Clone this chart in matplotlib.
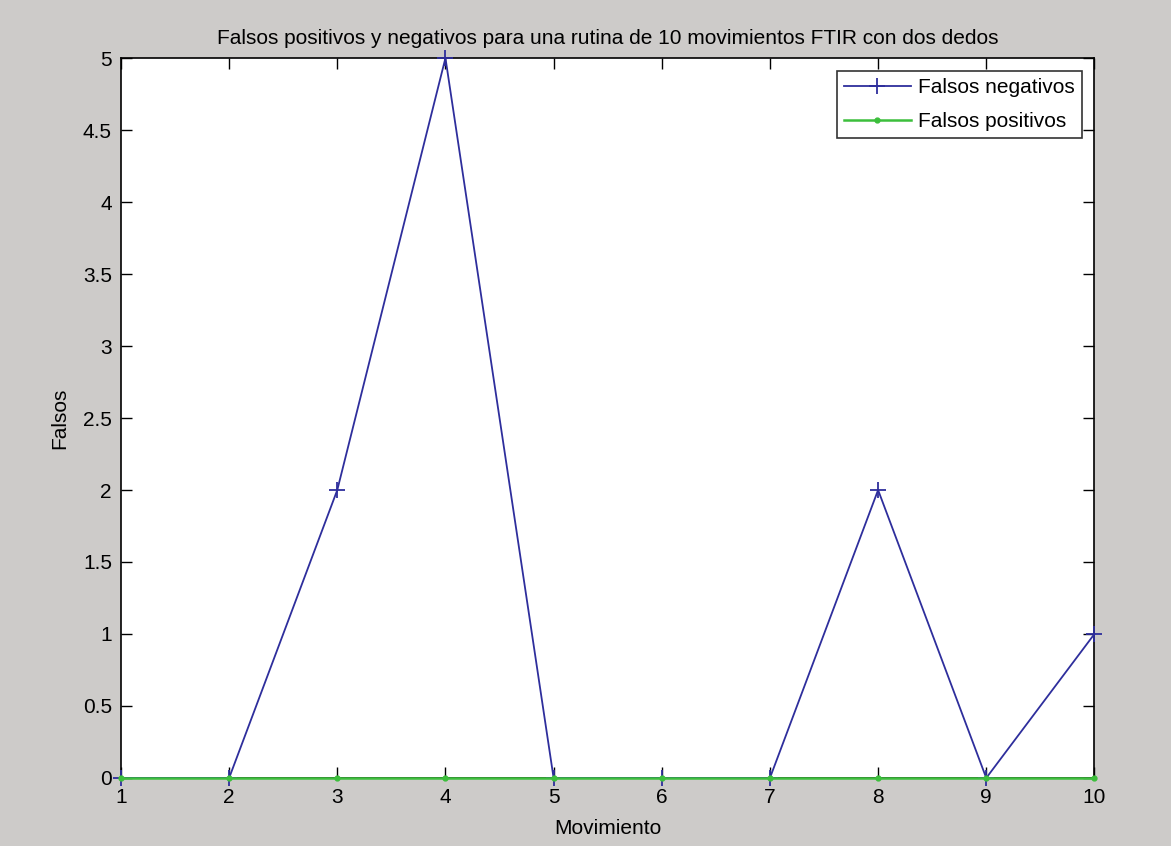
import matplotlib
matplotlib.use("Agg")
import matplotlib.pyplot as plt

movimiento = [1, 2, 3, 4, 5, 6, 7, 8, 9, 10]
falsos_negativos = [0, 0, 2, 5, 0, 0, 0, 2, 0, 1]
falsos_positivos = [0, 0, 0, 0, 0, 0, 0, 0, 0, 0]
y_ticks = [0, 0.5, 1, 1.5, 2, 2.5, 3, 3.5, 4, 4.5, 5]
y_tick_labels = ["0", "0.5", "1", "1.5", "2", "2.5", "3", "3.5", "4", "4.5", "5"]

plt.rcParams["font.family"] = ["Liberation Sans", "DejaVu Sans"]

fig = plt.figure(figsize=(11.71, 8.46), dpi=100, facecolor="#cdcbc9")
ax = fig.add_axes([0.1033, 0.0804, 0.8313, 0.851])
ax.set_facecolor("white")

ax.plot(movimiento, falsos_negativos, color="#2e2e9c", lw=1.3, marker="+",
        ms=12, mew=1.3, label="Falsos negativos", clip_on=False, zorder=3)
ax.plot(movimiento, falsos_positivos, color="#3cbf3c", lw=1.8, marker=".",
        ms=7, label="Falsos positivos", clip_on=False, zorder=4)

ax.set_xlim(1, 10)
ax.set_ylim(0, 5)
ax.set_xticks(movimiento)
ax.set_yticks(y_ticks)
ax.set_yticklabels(y_tick_labels)
ax.tick_params(direction="in", length=8, width=1, top=True, right=True,
               labelsize=15)
ax.tick_params(axis="x", pad=7)
ax.tick_params(axis="y", pad=6.5)
for s in ax.spines.values():
    s.set_linewidth(1.2)

ax.set_title("Falsos positivos y negativos para una rutina de 10 movimientos FTIR con dos dedos",
             fontsize=15, pad=10)
ax.set_xlabel("Movimiento", fontsize=15, labelpad=9)
ax.set_ylabel("Falsos", fontsize=15, labelpad=10)

leg = ax.legend(loc="upper right", fontsize=15, frameon=True, fancybox=False,
                edgecolor="black", handlelength=3.2, borderaxespad=0.6,
                borderpad=0.35, labelspacing=0.72, handletextpad=0.35)
leg.get_frame().set_linewidth(1.2)

fig.savefig("out.png", dpi=100, facecolor=fig.get_facecolor())
